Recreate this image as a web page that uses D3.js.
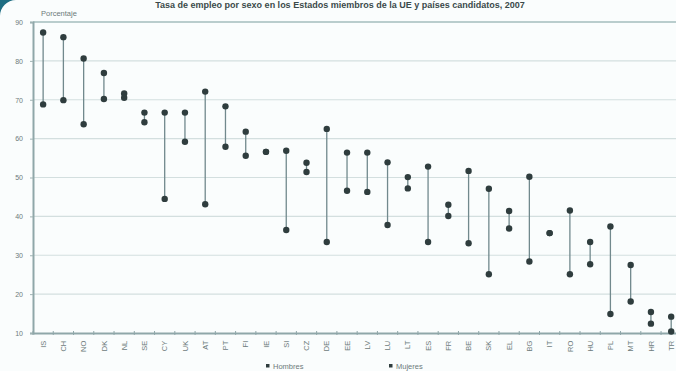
<!DOCTYPE html>
<html><head><meta charset="utf-8">
<script src="https://cdn.jsdelivr.net/npm/d3@7/dist/d3.min.js"></script>
<style>
html,body{margin:0;padding:0;background:#fafdfd;}
svg{display:block;font-family:"Liberation Sans",Arial,sans-serif;}
</style></head>
<body><svg id="c" width="676" height="371"></svg>
<script>
const categories = ["IS","CH","NO","DK","NL","SE","CY","UK","AT","PT","FI","IE","SI","CZ","DE","EE","LV","LU","LT","ES","FR","BE","SK","EL","BG","IT","RO","HU","PL","MT","HR","TR"];
const hombres = [87.3,86.1,80.6,76.9,71.6,66.7,66.7,66.7,72.1,68.3,61.8,56.6,56.9,53.8,62.5,56.4,56.4,53.9,50.1,52.8,43.0,51.7,47.1,41.4,50.2,35.7,41.5,33.4,37.4,27.5,15.4,14.2];
const mujeres = [68.8,69.9,63.7,70.2,70.5,64.2,44.5,59.2,43.1,57.9,55.6,56.6,36.5,51.4,33.4,46.6,46.3,37.8,47.2,33.4,40.1,33.1,25.1,36.9,28.4,35.7,25.1,27.7,14.9,18.1,12.4,10.4];
const yTicks = [10,20,30,40,50,60,70,80,90];
const seriesNames = ["Hombres","Mujeres"];
const titleText = "Tasa de empleo por sexo en los Estados miembros de la UE y países candidatos, 2007";
const yLabel = "Porcentaje";

const svg = d3.select("#c");
const m = {left:33, top:22, bottom:333};
const plotRight = 33 + categories.length*20.26;
const x = d3.scaleBand().domain(categories).range([m.left, plotRight]).padding(0);
const y = d3.scaleLinear().domain([10,90]).range([m.bottom, m.top]);

// corner decoration
svg.append("path").attr("d","M0,0 L16,0 A16,16 0 0 0 0,16 Z").attr("fill","#1d6d82");

// title
svg.append("text").attr("x",340).attr("y",8).attr("text-anchor","middle")
  .attr("font-size",9).attr("font-weight","bold").attr("fill","#3b4a4a").text(titleText);

// grid
svg.append("g").selectAll("line").data(yTicks.filter(d=>d>10 && d<90)).join("line")
  .attr("x1",m.left).attr("x2",676).attr("y1",d=>y(d)).attr("y2",d=>y(d))
  .attr("stroke","#d3dfdf").attr("stroke-width",1.2);
// top border
svg.append("line").attr("x1",m.left).attr("x2",676).attr("y1",y(90)).attr("y2",y(90))
  .attr("stroke","#b9cdcd").attr("stroke-width",2);

// y axis
const ya = svg.append("g").attr("transform",`translate(${m.left},0)`)
  .call(d3.axisLeft(y).tickValues(yTicks).tickSize(3).tickPadding(7));
ya.select(".domain").attr("stroke","#8fa7a9").attr("stroke-width",2);
ya.selectAll(".tick line").attr("stroke","#9fb3b3");
ya.selectAll("text").attr("font-size",7).attr("fill","#6d7b7b");

// x axis
const xa = svg.append("g").attr("transform",`translate(0,${m.bottom})`)
  .call(d3.axisBottom(x).tickSize(0).tickPadding(0));
xa.select(".domain").attr("stroke","#8fa7a9").attr("stroke-width",2);
xa.selectAll(".tick text").attr("font-size",7.5).attr("fill","#6d7b7b")
  .attr("transform","translate(0,7) rotate(-90)").attr("text-anchor","end").attr("dy","0.35em").attr("dx","-0.1em");
svg.append("g").selectAll("line").data(categories).join("line")
  .attr("x1",d=>x(d)).attr("x2",d=>x(d)).attr("y1",m.bottom-2).attr("y2",m.bottom+2)
  .attr("stroke","#8fa7a9");

// y label
svg.append("text").attr("x",41).attr("y",16).attr("font-size",7.5).attr("fill","#6d7b7b").text(yLabel);

// ranges
const cx = d => x(d)+x.bandwidth()/2;
svg.append("g").selectAll("line").data(categories).join("line")
  .attr("x1",cx).attr("x2",cx)
  .attr("y1",(d,i)=>y(hombres[i])).attr("y2",(d,i)=>y(mujeres[i]))
  .attr("stroke","#71898d").attr("stroke-width",1.3);

// markers
[hombres, mujeres].forEach((arr,k)=>{
  svg.append("g").selectAll("circle").data(categories).join("circle")
    .attr("cx",cx).attr("cy",(d,i)=>y(arr[i])).attr("r",3.2)
    .attr("fill","#2f3d3e");
});

// legend
const leg = [{x:268,t:seriesNames[0]},{x:391,t:seriesNames[1]}];
leg.forEach(l=>{
  svg.append("rect").attr("x",l.x-2).attr("y",364).attr("width",3.5).attr("height",3.5).attr("fill","#2f3d3e");
  svg.append("text").attr("x",l.x+5).attr("y",368.5).attr("font-size",7.5).attr("fill","#6d7b7b").text(l.t);
});
</script></body></html>
